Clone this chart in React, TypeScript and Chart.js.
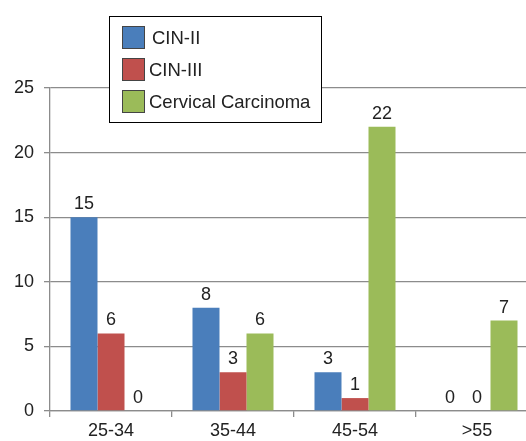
import React, { useEffect, useRef } from "react";
import { Chart, registerables } from "chart.js";

Chart.register(...registerables);

const categories = ["25-34", "35-44", "45-54", ">55"];
const seriesNames = ["CIN-II", "CIN-III", "Cervical Carcinoma"];
const cin2 = [15, 8, 3, 0];
const cin3 = [6, 3, 1, 0];
const carcinoma = [0, 6, 22, 7];
const colors = ["#4a7ebb", "#c0504d", "#9bbb59"];
const yTicks = [0, 5, 10, 15, 20, 25];

const FONT = "'Liberation Sans', Arial, sans-serif";

const valueLabels = {
  id: "valueLabels",
  afterDatasetsDraw(chart: any) {
    const ctx = chart.ctx;
    ctx.save();
    ctx.font = `18px ${FONT}`;
    ctx.fillStyle = "#222";
    ctx.textAlign = "center";
    ctx.textBaseline = "alphabetic";
    chart.data.datasets.forEach((ds: any, i: number) => {
      const meta = chart.getDatasetMeta(i);
      meta.data.forEach((el: any, j: number) => {
        ctx.fillText(String(ds.data[j]), el.x, el.y - 8);
      });
    });
    ctx.restore();
  },
};

const boxLegend = {
  id: "boxLegend",
  afterDraw(chart: any) {
    const ctx = chart.ctx;
    ctx.save();
    const x0 = 109.5, y0 = 16.5, w = 212, h = 106;
    ctx.fillStyle = "#fff";
    ctx.fillRect(x0, y0, w, h);
    ctx.strokeStyle = "#000";
    ctx.lineWidth = 1;
    ctx.strokeRect(x0, y0, w, h);
    ctx.font = `18.5px ${FONT}`;
    ctx.textBaseline = "alphabetic";
    ctx.textAlign = "left";
    chart.data.datasets.forEach((ds: any, i: number) => {
      const sy = 26 + i * 32;
      ctx.fillStyle = ds.backgroundColor;
      ctx.fillRect(122, sy, 23, 23);
      ctx.strokeStyle = "#444";
      ctx.strokeRect(122.5, sy + 0.5, 22, 22);
      ctx.fillStyle = "#222";
      ctx.fillText(ds.label, i === 0 ? 152 : 149, sy + 18);
    });
    ctx.restore();
  },
};

export default function App() {
  const ref = useRef<HTMLCanvasElement>(null);
  useEffect(() => {
    if (!ref.current) return;
    const values = [cin2, cin3, carcinoma];
    const chart = new Chart(ref.current, {
      type: "bar",
      data: {
        labels: categories,
        datasets: seriesNames.map((name, i) => ({
          label: name,
          data: values[i],
          backgroundColor: colors[i],
          borderWidth: 0,
          categoryPercentage: 0.664,
          barPercentage: 1,
        })),
      },
      options: {
        responsive: false,
        animation: false,
        layout: { padding: { top: 88, right: 2, left: 0, bottom: 0 } },
        plugins: { legend: { display: false }, tooltip: { enabled: false } },
        scales: {
          x: {
            grid: {
              display: true,
              drawOnChartArea: false,
              drawTicks: true,
              tickLength: 6,
              color: "#8c8c8c",
              lineWidth: 1.3,
            },
            border: { color: "#8c8c8c", width: 1.3 },
            ticks: { color: "#222", font: { family: FONT, size: 18 }, padding: 3 },
            afterFit(scale: any) {
              scale.height = 30;
            },
          },
          y: {
            min: 0,
            max: 25,
            afterBuildTicks(scale: any) {
              scale.ticks = yTicks.map((v) => ({ value: v }));
            },
            grid: { color: "#8c8c8c", lineWidth: 1.3, tickLength: 6 },
            border: { color: "#8c8c8c", width: 1.3 },
            ticks: { color: "#222", font: { family: FONT, size: 18 }, padding: 10 },
            afterFit(scale: any) {
              scale.width = 50;
            },
          },
        },
      },
      plugins: [valueLabels, boxLegend],
    });
    return () => chart.destroy();
  }, []);
  return (
    <div
      style={{
        position: "fixed",
        left: 0,
        top: 0,
        width: 526,
        height: 441,
        overflow: "hidden",
        background: "#fff",
      }}
    >
      <canvas ref={ref} width={540} height={441} style={{ width: 540, height: 441, display: "block" }} />
    </div>
  );
}
